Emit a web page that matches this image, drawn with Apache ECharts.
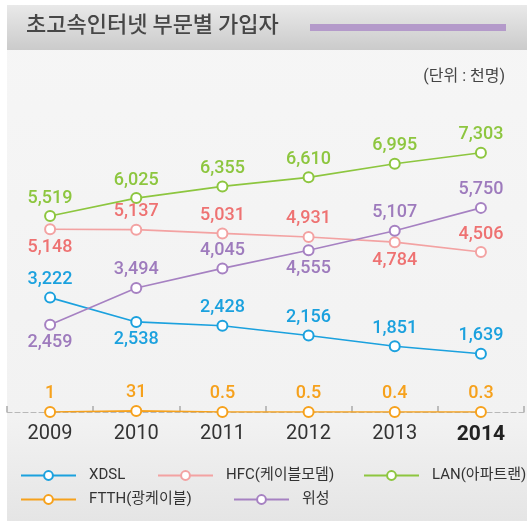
<!DOCTYPE html>
<html>
<head>
<meta charset="utf-8">
<script src="https://cdn.jsdelivr.net/npm/echarts@6/dist/echarts.min.js"></script>
<style>
  html, body { margin: 0; padding: 0; background: #fff; }
  #chart { width: 527px; height: 521px; }
</style>
</head>
<body>
<div id="chart"></div>
<script>
const years = ['2009', '2010', '2011', '2012', '2013', '2014']
const xdsl = [3222, 2538, 2428, 2156, 1851, 1639]
const hfc = [5148, 5137, 5031, 4931, 4784, 4506]
const lan = [5519, 6025, 6355, 6610, 6995, 7303]
const ftth = [1, 31, 0.5, 0.5, 0.4, 0.3]
const sat = [2459, 3494, 4045, 4555, 5107, 5750]

// label above (t) or below (b) each point
const xdslPos = ['t', 'b', 't', 't', 't', 't']
const hfcPos = ['b', 't', 't', 't', 'b', 't']
const lanPos = ['t', 't', 't', 't', 't', 't']
const ftthPos = ['t', 't', 't', 't', 't', 't']
const satPos = ['b', 't', 't', 'b', 't', 't']

const NUM_FONT = 'Roboto, sans-serif'
const KR_FONT = 'Roboto, "Noto Sans CJK KR", sans-serif'

const chart = echarts.init(document.getElementById('chart'))

const fmt = v => v >= 1000 ? v.toLocaleString('en-US') : String(v)

const makeSeries = (name, values, pos, lineColor, labelColor) => ({
  name,
  type: 'line',
  data: values.map((v, i) => ({
    value: v,
    label: { position: pos[i] === 't' ? 'top' : 'bottom' },
  })),
  color: lineColor,
  symbol: 'emptyCircle',
  symbolSize: 10,
  lineStyle: { width: 1.6, color: lineColor },
  itemStyle: { color: lineColor, borderWidth: 1.6 },
  label: {
    show: true,
    distance: 3,
    color: labelColor,
    fontFamily: NUM_FONT,
    fontSize: 18,
    fontWeight: 500,
    formatter: p => fmt(p.value),
  },
  z: 3,
})

const legendAt = (name, left, top) => ({
  data: [name],
  left,
  top,
  padding: 0,
  itemWidth: 55,
  itemHeight: 11,
  textStyle: { fontSize: 15, color: '#333', fontFamily: KR_FONT, padding: [0, 0, 0, 8] },
})

const option = {
  backgroundColor: '#fff',
  animation: false,
  graphic: [
    {
      type: 'rect',
      shape: { x: 7, y: 5, width: 520, height: 516 },
      style: {
        fill: new echarts.graphic.LinearGradient(0, 0, 0, 1, [
          { offset: 0, color: '#f6f6f6' },
          { offset: 0.8, color: '#f2f2f2' },
          { offset: 1, color: '#e5e5e5' },
        ]),
      },
      z: -10,
    },
    {
      type: 'rect',
      shape: { x: 7, y: 5, width: 520, height: 45 },
      style: {
        fill: new echarts.graphic.LinearGradient(0, 0, 0, 1, [
          { offset: 0, color: '#e9e9e9' },
          { offset: 1, color: '#cbcbcb' },
        ]),
      },
      z: -9,
    },
    {
      type: 'rect',
      shape: { x: 310, y: 24, width: 196, height: 7 },
      style: { fill: '#b49aca' },
    },
    {
      type: 'text',
      left: 26,
      top: 13,
      style: { text: '초고속인터넷 부문별 가입자', fontSize: 22, fontFamily: '"Noto Sans CJK KR"', fontWeight: 500, fill: '#474747' },
    },
    {
      type: 'text',
      right: 22,
      top: 69,
      style: { text: '(단위 : 천명)', fontSize: 16, fontFamily: KR_FONT, fill: '#444' },
    },
  ],
  legend: [
    legendAt('XDSL', 20, 468),
    legendAt('HFC(케이블모뎀)', 157, 468),
    legendAt('LAN(아파트랜)', 363, 468),
    legendAt('FTTH(광케이블)', 20, 492),
    legendAt('위성', 233, 492),
  ],
  grid: { left: 7, right: 3, top: 128, bottom: 109 },
  xAxis: {
    type: 'category',
    data: years,
    boundaryGap: true,
    axisLine: { lineStyle: { color: '#b8b8b8', width: 1.2, type: [5, 3] } },
    axisTick: { show: true, interval: 0, inside: true, length: 6, lineStyle: { color: '#aaa', width: 1.5, type: 'solid' } },
    axisLabel: {
      interval: 0,
      margin: 12,
      fontFamily: NUM_FONT,
      fontSize: 20,
      color: '#333',
      formatter: v => v === '2014' ? '{b|' + v + '}' : v === '2010' ? '{u|' + v + '}' : v,
      rich: {
        b: { fontFamily: NUM_FONT, fontSize: 21, fontWeight: 'bold', color: '#222' },
        u: { fontFamily: NUM_FONT, fontSize: 20, color: '#333', padding: [0, 0, 8, 0] },
      },
    },
  },
  yAxis: {
    type: 'value',
    min: 0,
    max: 8000,
    show: false,
    splitLine: { show: false },
  },
  series: [
    makeSeries('XDSL', xdsl, xdslPos, '#1ba1de', '#1ba1de'),
    makeSeries('HFC(케이블모뎀)', hfc, hfcPos, '#f3a2a2', '#ee7272'),
    makeSeries('LAN(아파트랜)', lan, lanPos, '#8dc63f', '#8dc63f'),
    makeSeries('FTTH(광케이블)', ftth, ftthPos, '#f6a11c', '#f6a11c'),
    makeSeries('위성', sat, satPos, '#a681c2', '#9e7bbd'),
  ],
}

chart.setOption(option)
</script>
</body>
</html>
